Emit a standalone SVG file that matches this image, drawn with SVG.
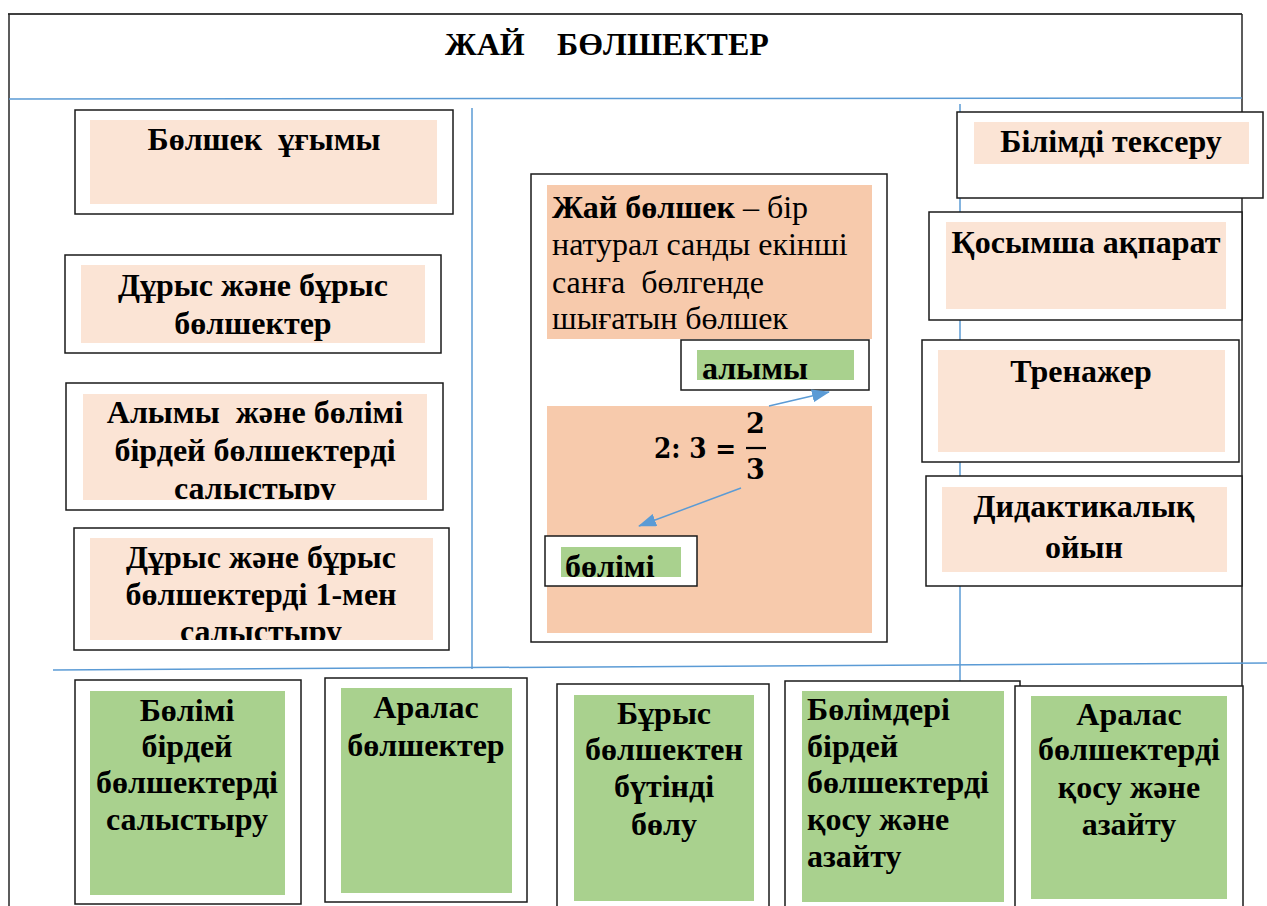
<svg xmlns="http://www.w3.org/2000/svg" width="1267" height="906" viewBox="0 0 1267 906">
<style>
.frame{fill:none;stroke:#262626;stroke-width:1.5}
.box{fill:#fff;stroke:#1a1a1a;stroke-width:1.5}
.lp{fill:#fbe4d5}
.mp{fill:#f7caac}
.gr{fill:#a9d18e}
.bl{stroke:#5b9bd5;stroke-width:1.5;fill:none}
.t{font-family:"Liberation Serif","Times New Roman",serif;font-size:32px;font-weight:bold;fill:#000}
.c{text-anchor:middle}
.r{font-weight:normal}
.m{font-family:"DejaVu Serif","Liberation Serif",serif;font-size:27px;font-weight:bold;fill:#000}
</style>
<defs>
<marker id="ah" viewBox="0 0 18 13" refX="17" refY="6.5" markerWidth="18" markerHeight="13" markerUnits="userSpaceOnUse" orient="auto"><path d="M0,0 L18,6.5 L0,13 z" fill="#5b9bd5"/></marker>
<clipPath id="cl3"><rect x="83" y="394" width="344" height="106"/></clipPath>
<clipPath id="cl4"><rect x="90" y="538" width="343" height="102"/></clipPath>
</defs>
<rect width="1267" height="906" fill="#fff"/>
<g id="frame">
<line x1="8" y1="14" x2="1242" y2="14" stroke="#404040" stroke-width="2"/>
<line x1="9" y1="14" x2="9" y2="906" stroke="#262626" stroke-width="1.5"/>
<line x1="1242" y1="14" x2="1242" y2="906" stroke="#262626" stroke-width="1.5"/>
</g>
<g id="guides">
<line class="bl" x1="9" y1="99" x2="1242" y2="98"/>
<line class="bl" x1="472" y1="108" x2="472" y2="669"/>
<line class="bl" x1="960" y1="104" x2="960" y2="681"/>
<line class="bl" x1="53" y1="670" x2="1267" y2="663"/>
</g>
<g id="title">
<text class="t" x="445" y="55">ЖАЙ</text>
<text class="t" x="557" y="55">БӨЛШЕКТЕР</text>
</g>
<g id="n1"><rect class="box" x="75" y="110" width="378" height="104"/><rect class="lp" x="90" y="120" width="347" height="84"/><text class="t c" x="264" y="150" xml:space="preserve">Бөлшек  ұғымы</text></g>
<g id="n2"><rect class="box" x="65" y="255" width="376" height="98"/><rect class="lp" x="81" y="265" width="344" height="78"/><text class="t c" x="253" y="296">Дұрыс және бұрыс</text><text class="t c" x="253" y="334">бөлшектер</text></g>
<g id="n3"><rect class="box" x="66" y="383" width="377" height="127"/><rect class="lp" x="83" y="394" width="344" height="106"/><g clip-path="url(#cl3)"><text class="t c" x="255" y="423" xml:space="preserve">Алымы  және бөлімі</text><text class="t c" x="255" y="461">бірдей бөлшектерді</text><text class="t c" x="255" y="499">салыстыру</text></g></g>
<g id="n4"><rect class="box" x="74" y="528" width="375" height="122"/><rect class="lp" x="90" y="538" width="343" height="102"/><g clip-path="url(#cl4)"><text class="t c" x="261" y="568">Дұрыс және бұрыс</text><text class="t c" x="261" y="605">бөлшектерді 1-мен</text><text class="t c" x="261" y="642">салыстыру</text></g></g>
<g id="def">
<rect class="box" x="531" y="174" width="356" height="468"/>
<rect class="mp" x="547" y="185" width="325" height="154"/>
<rect class="mp" x="547" y="406" width="325" height="227"/>
<text class="t" x="552" y="218">Жай бөлшек<tspan class="r"> – бір</tspan></text>
<text class="t r" x="552" y="255">натурал санды екінші</text>
<text class="t r" x="552" y="293" xml:space="preserve">санға  бөлгенде</text>
<text class="t r" x="552" y="329">шығатын бөлшек</text>
<text class="m" x="654" y="458" textLength="82" lengthAdjust="spacingAndGlyphs">2: 3 =</text>
<text class="m" x="746" y="433">2</text>
<line x1="746" y1="448" x2="766" y2="448" stroke="#000" stroke-width="2.2"/>
<text class="m" x="746" y="479">3</text>
</g>
<g id="num"><rect class="box" x="681" y="340" width="188" height="50"/><rect class="gr" x="697" y="350" width="157" height="30"/><text class="t" x="702" y="379">алымы</text></g>
<g id="den"><rect class="box" x="545" y="536" width="152" height="50"/><rect class="gr" x="561" y="547" width="120" height="30"/><text class="t" x="565" y="577">бөлімі</text></g>
<g id="connectors">
<line class="bl" x1="769" y1="406" x2="829" y2="392" marker-end="url(#ah)"/>
<line class="bl" x1="741" y1="488" x2="639" y2="526" marker-end="url(#ah)"/>
</g>
<g id="r1"><rect class="box" x="957" y="112" width="306" height="86"/><rect class="lp" x="974" y="122" width="275" height="42"/><text class="t c" x="1111" y="152">Білімді тексеру</text></g>
<g id="r2"><rect class="box" x="929" y="212" width="313" height="108"/><rect class="lp" x="946" y="222" width="280" height="87"/><text class="t c" x="1086" y="253">Қосымша ақпарат</text></g>
<g id="r3"><rect class="box" x="922" y="340" width="317" height="122"/><rect class="lp" x="938" y="350" width="287" height="102"/><text class="t c" x="1081" y="382">Тренажер</text></g>
<g id="r4"><rect class="box" x="926" y="476" width="316" height="110"/><rect class="lp" x="942" y="487" width="285" height="85"/><text class="t c" x="1084" y="517">Дидактикалық</text><text class="t c" x="1084" y="558">ойын</text></g>
<g id="b1"><rect class="box" x="75" y="680" width="226" height="224"/><rect class="gr" x="90" y="691" width="195" height="204"/><text class="t c" x="187" y="721">Бөлімі</text><text class="t c" x="187" y="757">бірдей</text><text class="t c" x="187" y="793">бөлшектерді</text><text class="t c" x="187" y="830">салыстыру</text></g>
<g id="b2"><rect class="box" x="325" y="678" width="202" height="224"/><rect class="gr" x="341" y="688" width="171" height="205"/><text class="t c" x="426" y="718">Аралас</text><text class="t c" x="426" y="756">бөлшектер</text></g>
<g id="b3"><rect class="box" x="557" y="684" width="212" height="230"/><rect class="gr" x="574" y="695" width="180" height="206"/><text class="t c" x="664" y="724">Бұрыс</text><text class="t c" x="664" y="760">бөлшектен</text><text class="t c" x="664" y="797">бүтінді</text><text class="t c" x="664" y="835">бөлу</text></g>
<g id="b4"><rect class="box" x="785" y="681" width="235" height="233"/><rect class="gr" x="802" y="691" width="202" height="211"/><text class="t" x="807" y="720">Бөлімдері</text><text class="t" x="807" y="757">бірдей</text><text class="t" x="807" y="793">бөлшектерді</text><text class="t" x="807" y="830">қосу және</text><text class="t" x="807" y="867">азайту</text></g>
<g id="b5"><rect class="box" x="1015" y="686" width="228" height="228"/><rect class="gr" x="1031" y="696" width="196" height="203"/><text class="t c" x="1129" y="725">Аралас</text><text class="t c" x="1129" y="760">бөлшектерді</text><text class="t c" x="1129" y="798">қосу және</text><text class="t c" x="1129" y="835">азайту</text></g>
</svg>
